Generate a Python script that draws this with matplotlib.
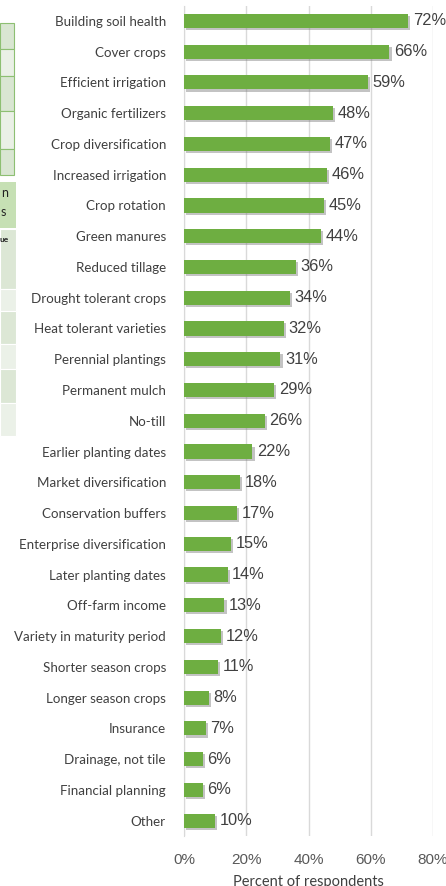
import matplotlib
matplotlib.use("Agg")
import matplotlib.pyplot as plt
import matplotlib.patheffects as pe
from matplotlib.patches import Rectangle

categories = ["Building soil health", "Cover crops", "Efficient irrigation", "Organic fertilizers",
              "Crop diversification", "Increased irrigation", "Crop rotation", "Green manures",
              "Reduced tillage", "Drought tolerant crops", "Heat tolerant varieties",
              "Perennial plantings", "Permanent mulch", "No-till", "Earlier planting dates",
              "Market diversification", "Conservation buffers", "Enterprise diversification",
              "Later planting dates", "Off-farm income", "Variety in maturity period",
              "Shorter season crops", "Longer season crops", "Insurance", "Drainage, not tile",
              "Financial planning", "Other"]
values = [72, 66, 59, 48, 47, 46, 45, 44, 36, 34, 32, 31, 29, 26, 22, 18, 17, 15, 14, 13, 12,
          11, 8, 7, 6, 6, 10]
xticks = [0, 20, 40, 60, 80]

W, H = 446, 886
fig = plt.figure(figsize=(W / 100, H / 100), dpi=100)
ax = fig.add_axes([184 / W, 1 - 836 / H, (433 - 184) / W, (836 - 5.5) / H])

# remnants of a neighbouring table at the left edge (screenshot crop)
def box(y0, y1, x1, fc, ec="#8dbf72"):
    fig.patches.append(Rectangle((0, 1 - y1 / H), x1 / W, (y1 - y0) / H, transform=fig.transFigure,
                                 fc=fc, ec=ec, lw=0.8))
rows1 = [23, 49, 76, 111, 149, 175]
for i in range(len(rows1) - 1):
    box(rows1[i], rows1[i + 1], 14, "#d9e6d2" if i % 2 == 0 else "#eaf0e6")
box(182, 228, 16, "#c6e0b4", ec="none")
rows2 = [229, 289, 311, 344, 369, 403, 436]
for i in range(len(rows2) - 1):
    box(rows2[i], rows2[i + 1], 16, "#dce7d5" if i % 2 == 0 else "#ebf1e8", ec="white")
fig.text(1 / W, 1 - 193 / H, "n", fontsize=9, va="center", color="#222222", family="Lato")
fig.text(1 / W, 1 - 212 / H, "s", fontsize=9, va="center", color="#222222", family="Lato")
fig.text(0 / W, 1 - 240 / H, "ue", fontsize=6, va="center", color="#222222", family="Lato",
         fontweight="bold")

y = list(range(len(categories)))
bars = ax.barh(y, values, height=0.46, color="#6eae41", zorder=3)
for b in bars:
    b.set_path_effects([pe.SimplePatchShadow(offset=(1.5, -1.5), shadow_rgbFace="#7a7a7a", alpha=0.45),
                        pe.Normal()])
for yi, v in zip(y, values):
    ax.text(v + 1.5, yi, f"{v}%", va="center", ha="left", fontsize=11.8, color="#404040",
            family="Liberation Sans", zorder=4)

ax.set_ylim(len(categories) - 0.5, -0.5)
ax.set_xlim(0, 80)
ax.set_yticks(y)
ax.set_yticklabels(categories, fontsize=9.6, color="#404040", family="Lato")
ax.set_xticks(xticks)
ax.set_xticklabels([f"{t}%" for t in xticks], fontsize=11, color="#595959", family="Liberation Sans")
ax.tick_params(axis="y", length=0, pad=13)
ax.tick_params(axis="x", length=0, pad=12)
ax.xaxis.grid(True, color="#d9d9d9", lw=1, zorder=0)
ax.set_axisbelow(True)
for s in ["top", "right", "bottom"]:
    ax.spines[s].set_visible(False)
ax.spines["left"].set_color("#d9d9d9")
ax.set_xlabel("Percent of respondents", fontsize=10.5, color="#404040", family="Lato", labelpad=6)

fig.savefig("out.png", dpi=100)
